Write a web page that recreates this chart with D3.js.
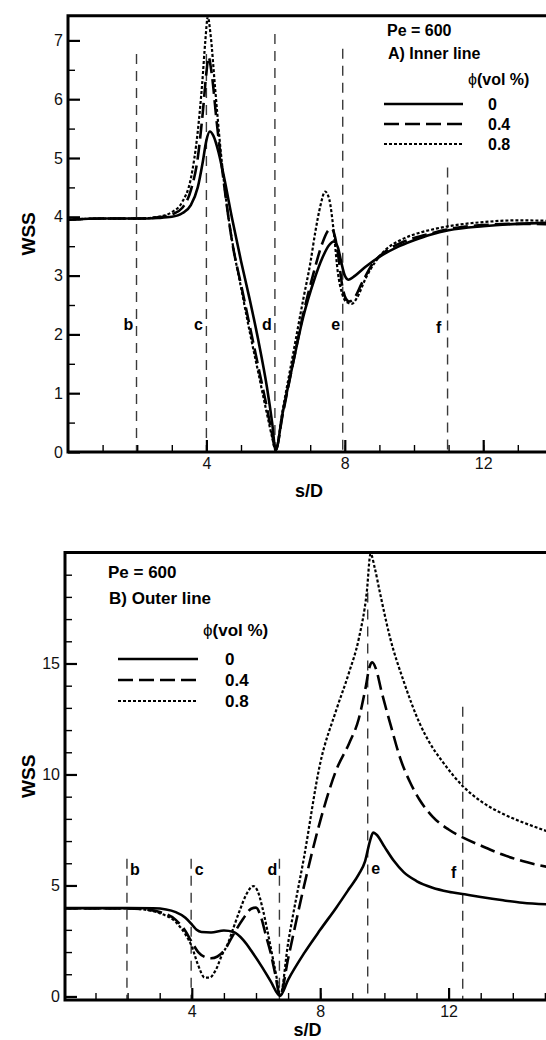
<!DOCTYPE html>
<html>
<head>
<meta charset="utf-8">
<script src="https://cdn.jsdelivr.net/npm/d3@7"></script>
<style>
body{margin:0;background:#fff}
svg{display:block;font-family:"Liberation Sans",Arial,Helvetica,sans-serif}
</style>
</head>
<body>
<svg id="chart" width="546" height="1040"></svg>
<script>
// phi (vol %) series
var phiLabels = ["0", "0.4", "0.8"];
var sectionLabels = ["b", "c", "d", "e", "f"];

// A) inner line, [s/D, WSS]
var inner0 = [[0,3.95],[1,3.97],[2,3.97],[2.6,3.98],[3.0,4.0],[3.3,4.06],[3.55,4.2],[3.75,4.5],[3.9,4.95],[4.0,5.3],[4.1,5.45],[4.2,5.38],[4.35,5.1],[4.5,4.7],[4.75,3.95],[5.0,3.25],[5.25,2.6],[5.5,1.9],[5.75,1.1],[5.9,0.5],[6.0,0.03],[6.2,0.65],[6.5,1.5],[6.8,2.3],[7.1,2.9],[7.35,3.3],[7.55,3.52],[7.68,3.58],[7.8,3.48],[7.9,3.22],[8.0,3.0],[8.1,2.93],[8.3,3.0],[8.6,3.15],[9.0,3.32],[9.5,3.48],[10,3.6],[10.5,3.7],[11,3.77],[12,3.84],[13,3.88],[14,3.9]];
var inner4 = [[0,3.95],[1,3.97],[2,3.97],[2.6,3.99],[3.0,4.04],[3.3,4.15],[3.55,4.45],[3.75,5.0],[3.9,5.8],[4.0,6.45],[4.06,6.72],[4.15,6.45],[4.3,5.6],[4.5,4.6],[4.75,3.55],[5.0,2.85],[5.25,2.15],[5.5,1.45],[5.75,0.75],[5.9,0.3],[6.0,0.03],[6.2,0.62],[6.5,1.5],[6.8,2.35],[7.1,3.05],[7.35,3.55],[7.5,3.75],[7.62,3.8],[7.72,3.65],[7.82,3.3],[7.92,2.85],[8.02,2.62],[8.12,2.56],[8.25,2.6],[8.5,2.88],[8.8,3.2],[9.2,3.42],[9.6,3.55],[10,3.64],[10.5,3.72],[11,3.79],[12,3.86],[13,3.88],[14,3.87]];
var inner8 = [[0,3.95],[1,3.97],[2,3.97],[2.6,4.0],[3.0,4.08],[3.3,4.25],[3.55,4.65],[3.75,5.45],[3.88,6.28],[3.97,7.0],[4.04,7.4],[4.12,7.1],[4.25,6.2],[4.4,5.2],[4.6,4.15],[4.8,3.4],[5.0,2.8],[5.25,2.05],[5.5,1.35],[5.75,0.65],[5.9,0.25],[6.0,0.03],[6.2,0.7],[6.5,1.65],[6.8,2.6],[7.0,3.2],[7.15,3.75],[7.3,4.2],[7.43,4.43],[7.55,4.3],[7.68,3.75],[7.8,3.05],[7.92,2.7],[8.05,2.55],[8.2,2.52],[8.35,2.62],[8.6,2.95],[8.9,3.25],[9.2,3.45],[9.6,3.6],[10,3.7],[10.5,3.78],[11,3.84],[12,3.91],[13,3.94],[14,3.93]];

// B) outer line, [s/D, WSS]
var outer0 = [[0,3.98],[1,3.98],[2,3.98],[2.8,3.97],[3.2,3.92],[3.5,3.8],[3.8,3.55],[4.0,3.25],[4.15,3.0],[4.3,2.9],[4.6,2.88],[5.0,2.97],[5.3,2.9],[5.6,2.55],[5.9,1.96],[6.2,1.3],[6.45,0.7],[6.75,0.03],[7.0,0.75],[7.5,1.95],[8.0,3.0],[8.5,4.0],[8.9,4.85],[9.2,5.5],[9.4,6.1],[9.55,7.0],[9.65,7.38],[9.75,7.3],[10.0,6.75],[10.3,6.1],[10.6,5.6],[11.0,5.2],[11.5,4.9],[12.0,4.72],[12.5,4.6],[13.0,4.48],[13.7,4.33],[14.3,4.22],[15.2,4.14]];
var outer4 = [[0,3.97],[1,3.97],[2,3.97],[2.5,3.93],[3.0,3.8],[3.5,3.45],[3.8,2.95],[4.0,2.45],[4.2,2.0],[4.4,1.78],[4.6,1.72],[4.8,1.8],[5.0,2.05],[5.3,2.8],[5.6,3.5],[5.85,3.95],[6.0,4.0],[6.15,3.6],[6.3,2.8],[6.45,2.0],[6.6,1.0],[6.75,0.03],[7.0,1.7],[7.5,5.0],[8.0,7.9],[8.5,10.2],[8.9,11.4],[9.2,12.5],[9.4,13.8],[9.55,14.9],[9.62,15.05],[9.75,14.7],[9.9,13.8],[10.2,12.2],[10.5,10.7],[10.8,9.65],[11.1,8.85],[11.5,8.1],[12.0,7.52],[12.5,7.12],[13.0,6.8],[13.7,6.38],[14.3,6.1],[15.2,5.8]];
var outer8 = [[0,3.97],[1,3.97],[2,3.97],[2.5,3.92],[3.0,3.75],[3.5,3.35],[3.8,2.8],[4.0,2.25],[4.2,1.4],[4.4,0.85],[4.55,0.85],[4.75,1.2],[4.95,1.9],[5.1,2.3],[5.3,3.1],[5.5,3.9],[5.7,4.6],[5.92,4.97],[6.05,4.75],[6.2,4.0],[6.35,3.0],[6.5,1.9],[6.65,0.8],[6.75,0.03],[7.0,2.4],[7.5,6.3],[8.0,10.5],[8.5,12.9],[8.9,14.6],[9.2,16.1],[9.45,18.2],[9.57,19.95],[9.7,19.3],[9.86,18.2],[10.17,16.2],[10.6,14.2],[11.1,12.3],[11.4,11.45],[11.8,10.6],[12.46,9.45],[13.0,8.8],[13.7,8.22],[14.3,7.85],[15.2,7.38]];

// section marks: position, top of dashed line, label height (WSS)
var innerSecX = [1.98, 4.0, 5.98, 7.94, 10.97];
var innerSecTop = [6.77, 6.77, 7.11, 6.86, 4.84];
var innerSecLabelY = [2.17, 2.17, 2.17, 2.17, 2.12];
var outerSecX = [1.98, 3.98, 6.73, 9.48, 12.44];
var outerSecTop = [6.2, 6.2, 6.2, 18.2, 13.05];
var outerSecLabelY = [5.75, 5.75, 5.75, 5.8, 5.6];

var xMajor = [4, 8, 12];
var innerYMajor = [0, 1, 2, 3, 4, 5, 6, 7];
var outerYMajor = [0, 5, 10, 15];

var lineStyles = [{dash: null, w: 2.6}, {dash: "15,6", w: 2.6}, {dash: "3,2", w: 2.2}];

var svg = d3.select("#chart");

function panel(p) {
    var x = d3.scaleLinear().domain(p.xDomain).range(p.xRange);
    var y = d3.scaleLinear().domain(p.yDomain).range(p.yRange);
    var g = svg.append("g");
    var left = p.xRange[0], right = p.xRange[1], top = p.yRange[1], bottom = p.yRange[0];

    svg.append("clipPath").attr("id", p.id + "clip").append("rect")
        .attr("x", left).attr("y", top).attr("width", right - left).attr("height", bottom - top);

    // section dashed lines
    g.selectAll(".sec").data(p.secX).enter().append("line")
        .attr("x1", function(d) { return x(d); }).attr("x2", function(d) { return x(d); })
        .attr("y1", function(d, i) { return y(p.secTop[i]); }).attr("y2", bottom)
        .attr("stroke", "#3a3a3a").attr("stroke-width", 1.4).attr("stroke-dasharray", "10,7");
    g.selectAll(".secl").data(p.secX).enter().append("text")
        .attr("x", function(d, i) { return x(d) + p.secDx[i]; })
        .attr("y", function(d, i) { return y(p.secLabelY[i]) + 6; })
        .attr("text-anchor", "middle").attr("font-size", 16).attr("font-weight", "bold")
        .text(function(d, i) { return sectionLabels[i]; });

    // curves
    var line = d3.line().x(function(d) { return x(d[0]); }).y(function(d) { return y(d[1]); })
        .curve(d3.curveMonotoneX);
    g.append("g").attr("clip-path", "url(#" + p.id + "clip)")
        .selectAll("path").data(p.series).enter().append("path")
        .attr("d", line).attr("fill", "none").attr("stroke", "#000")
        .attr("stroke-width", function(d, i) { return lineStyles[i].w; })
        .attr("stroke-dasharray", function(d, i) { return lineStyles[i].dash; });

    // ticks (inward)
    function noDomain(a) { a.select(".domain").remove(); }
    g.append("g").attr("transform", "translate(0," + bottom + ")")
        .call(d3.axisBottom(x).tickValues(d3.range(1, p.xDomain[1], 1)).tickSize(-7).tickFormat(""))
        .call(noDomain).selectAll("line").attr("stroke-width", 1.4);
    g.append("g").attr("transform", "translate(0," + bottom + ")")
        .call(d3.axisBottom(x).tickValues(xMajor).tickSize(-12).tickPadding(6))
        .call(noDomain)
        .call(function(a) {
            a.selectAll("line").attr("stroke-width", 2.2);
            a.selectAll("text").attr("font-size", 16).attr("fill", "#111").attr("font-family", null);
        });
    g.append("g").attr("transform", "translate(" + left + ",0)")
        .call(d3.axisLeft(y).tickValues(p.yMinor).tickSize(-7).tickFormat(""))
        .call(noDomain).selectAll("line").attr("stroke-width", 1.4);
    g.append("g").attr("transform", "translate(" + left + ",0)")
        .call(d3.axisLeft(y).tickValues(p.yMajor).tickSize(-12).tickPadding(5))
        .call(noDomain)
        .call(function(a) {
            a.selectAll("line").attr("stroke-width", 2.2);
            a.selectAll("text").attr("font-size", 16).attr("fill", "#111").attr("font-family", null);
        });

    // frame: left, bottom, top
    g.append("path").attr("d", "M" + right + "," + top + "H" + left + "V" + bottom + "H" + right)
        .attr("fill", "none").attr("stroke", "#000").attr("stroke-width", 3);

    // axis titles
    g.append("text").attr("x", (left + 546) / 2 + 2).attr("y", p.xTitleY)
        .attr("text-anchor", "middle").attr("font-size", 18).attr("font-weight", "bold").text("s/D");
    g.append("text").attr("transform", "translate(35," + (top + bottom) / 2 + ") rotate(-90)")
        .attr("text-anchor", "middle").attr("font-size", 19).attr("font-weight", "bold").text("WSS");

    // legend
    var L = p.legend;
    g.append("text").attr("x", L.x).attr("y", L.y).attr("font-size", L.fs).attr("font-weight", "bold").text("Pe = 600");
    g.append("text").attr("x", L.x + 1).attr("y", L.y + L.gap).attr("font-size", L.fs).attr("font-weight", "bold").text(p.title);
    var ph = g.append("text").attr("x", L.phiX).attr("y", L.phiY).attr("font-size", L.fs);
    ph.append("tspan").text("\u03d5");
    ph.append("tspan").attr("font-weight", "bold").text("(vol %)");
    phiLabels.forEach(function(lbl, i) {
        var ly = L.rowY + i * L.rowGap;
        g.append("line").attr("x1", L.lineX).attr("x2", L.lineX + L.lineW).attr("y1", ly).attr("y2", ly)
            .attr("stroke", "#000").attr("stroke-width", lineStyles[i].w)
            .attr("stroke-dasharray", lineStyles[i].dash);
        g.append("text").attr("x", L.textX).attr("y", ly + 6).attr("font-size", L.fs)
            .attr("font-weight", "bold").text(lbl);
    });
}

panel({
    id: "inner", title: "A) Inner line",
    xDomain: [0, 14], xRange: [68, 68 + 14 * 34.6],
    yDomain: [0, 7.42], yRange: [452, 15.7],
    yMajor: innerYMajor, yMinor: d3.range(0.5, 7.4, 1),
    series: [inner0, inner4, inner8],
    secX: innerSecX, secTop: innerSecTop, secLabelY: innerSecLabelY, secDx: [-8, -8, -8, -7, -9],
    xTitleY: 497,
    legend: {x: 387, y: 36, gap: 23, fs: 16, phiX: 468, phiY: 85, rowY: 104, rowGap: 20,
             lineX: 384, lineW: 79, textX: 488}
});

panel({
    id: "outer", title: "B) Outer line",
    xDomain: [0.05, 15.2], xRange: [65, 65 + 15.15 * 32.1],
    yDomain: [-0.16, 20], yRange: [1000, 552.5],
    yMajor: outerYMajor, yMinor: [1, 2, 3, 4, 6, 7, 8, 9, 11, 12, 13, 14, 16, 17, 18, 19],
    series: [outer0, outer4, outer8],
    secX: outerSecX, secTop: outerSecTop, secLabelY: outerSecLabelY, secDx: [8, 8, -7, 8, -9],
    xTitleY: 1036,
    legend: {x: 108, y: 578, gap: 26, fs: 17, phiX: 203, phiY: 636, rowY: 659, rowGap: 21,
             lineX: 118, lineW: 80, textX: 225}
});
</script>
</body>
</html>
